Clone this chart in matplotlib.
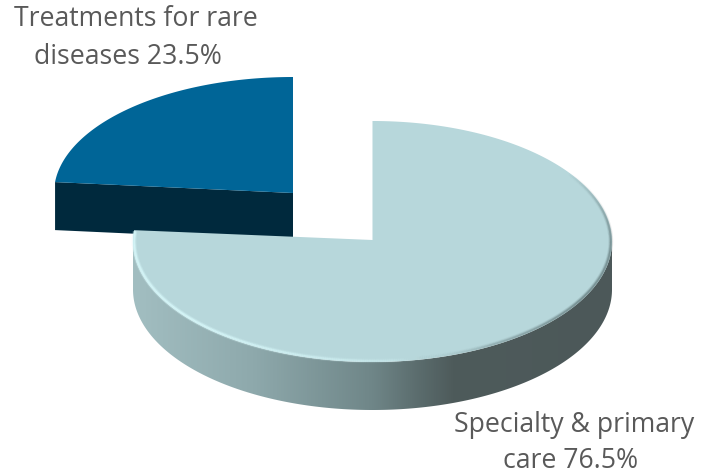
import numpy as np
import matplotlib
matplotlib.use("Agg")
import matplotlib.pyplot as plt
from matplotlib.collections import LineCollection
from matplotlib.colors import LinearSegmentedColormap
from matplotlib.patches import Polygon

# values
categories = ["Treatments for rare diseases", "Specialty & primary care"]
shares = [23.5, 76.5]
label_lines = [["Treatments for rare", "diseases 23.5%"], ["Specialty & primary", "care 76.5%"]]

plt.rcParams["font.family"] = ["Open Sans", "DejaVu Sans"]


def rim(cx, cy, rx, ry, start, end, n=300):
    # angles in degrees, clockwise from 12 o'clock
    a = np.radians(np.linspace(start, end, n))
    return np.column_stack([cx + rx * np.sin(a), cy - ry * np.cos(a)])


fig = plt.figure(figsize=(7.02, 4.76), dpi=100)
ax = fig.add_axes([0, 0, 1, 1])
ax.set_xlim(0, 702)
ax.set_ylim(476, 0)
ax.axis("off")

big_end = shares[1] / 100 * 360
small_span = shares[0] / 100 * 360
depth = 48

# small slice, pulled out to the upper left
sc = (293, 193)
s_rx, s_ry = 239, 116
s_rim = rim(sc[0], sc[1], s_rx, s_ry, 360 - small_span, 360)
s_top = np.vstack([[sc], s_rim])
s_face = np.array([s_rim[0], sc, sc + np.array([0, depth]), s_rim[0] + np.array([0, depth])])
ax.add_patch(Polygon(s_face, fc="#00293d", ec="none", zorder=2))
ax.add_patch(Polygon(s_top, fc="#006597", ec="none", zorder=3))

# big slice, the ellipse centre sits a little below the apex because of the perspective
apex = (372.5, 240)
bc = (372.5, 241.5)
b_rx, b_ry = 239.5, 120.5
wall_top = rim(bc[0], bc[1], b_rx, b_ry, 90, 270)
wall = np.vstack([wall_top, wall_top[::-1] + np.array([0, depth])])
wall_patch = Polygon(wall, fc="none", ec="none", zorder=4)
ax.add_patch(wall_patch)
wall_cmap = LinearSegmentedColormap.from_list(
    "wall",
    [(0, "#a2bec1"), (0.25, "#8ea9ac"), (0.5, "#6f8688"), (0.6, "#5a6b6c"), (0.67, "#4e5b5b"), (1, "#4c5859")],
)
grad = ax.imshow(
    np.linspace(0, 1, 512).reshape(1, -1),
    cmap=wall_cmap,
    extent=(bc[0] - b_rx, bc[0] + b_rx, bc[1] + b_ry + depth, bc[1]),
    aspect="auto",
    zorder=4,
)
grad.set_clip_path(wall_patch)
ax.set_xlim(0, 702)
ax.set_ylim(476, 0)

b_rim = rim(bc[0], bc[1], b_rx, b_ry, 0, big_end, 600)
b_top = np.vstack([[apex], b_rim])
ax.add_patch(Polygon(b_top, fc="#b7d7db", ec="none", zorder=5))

# soft bevel inside the front edge: dark on the right, light on the left
bevel = rim(bc[0], bc[1], b_rx - 1.2, b_ry - 1.2, 55, big_end - 0.5, 500)
segs = np.stack([bevel[:-1], bevel[1:]], axis=1)
ang = np.linspace(55, big_end - 0.5, len(segs))
light = np.array([0.85, 0.98, 0.99])
dark = np.array([0.30, 0.38, 0.39])
mix = np.clip((ang - 150) / 25, 0, 1)[:, None]
cols = np.zeros((len(segs), 4))
cols[:, :3] = dark * (1 - mix) + light * mix
strength = np.interp(ang, [55, 90, 120, 165, 185, 230, 275], [0.0, 0.5, 0.55, 0.1, 0.45, 1.0, 1.0])
for width, alpha in [(3.4, 0.25), (2.2, 0.4), (1.2, 0.7)]:
    layer = cols.copy()
    layer[:, 3] = strength * alpha
    ax.add_collection(LineCollection(segs, colors=layer, linewidths=width, capstyle="butt", zorder=6))

# labels
text_color = "#595959"
text_pos = [[(135.5, 26), (128, 64)], [(574, 432), (571, 468)]]
for lines, spots in zip(label_lines, text_pos):
    for line, (x, y) in zip(lines, spots):
        ax.text(x, y, line, ha="center", va="baseline", fontsize=19.2, color=text_color)

fig.savefig("out.png", dpi=100)
